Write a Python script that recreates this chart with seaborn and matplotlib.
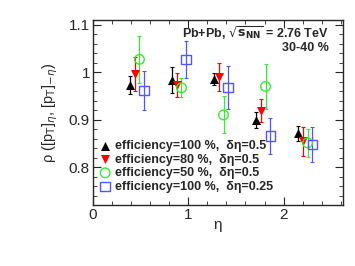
import matplotlib
matplotlib.use('Agg')
import matplotlib.pyplot as plt
import seaborn as sns
import pandas as pd
from matplotlib.ticker import MultipleLocator

# eta bins (black series); other series are shifted slightly in the figure
eta_eff100 = [0.39, 0.83, 1.27, 1.71, 2.15]
eta_eff80 = [0.44, 0.88, 1.32, 1.76, 2.20]
eta_eff50 = [0.49, 0.93, 1.37, 1.81, 2.25]
eta_eff100_d025 = [0.54, 0.98, 1.42, 1.86, 2.30]

rho_eff100 = [0.973, 0.983, 0.986, 0.899, 0.871]
err_eff100 = [0.018, 0.027, 0.013, 0.017, 0.015]
rho_eff80 = [0.996, 0.973, 0.990, 0.919, 0.854]
err_eff80 = [0.035, 0.025, 0.030, 0.024, 0.030]
rho_eff50 = [1.027, 0.967, 0.910, 0.970, 0.851]
err_eff50 = [0.050, 0.020, 0.039, 0.047, 0.030]
rho_eff100_d025 = [0.961, 1.027, 0.968, 0.865, 0.848]
err_eff100_d025 = [0.041, 0.039, 0.046, 0.038, 0.037]

labels = ['efficiency=100 %,  δη=0.5',
          'efficiency=80 %,  δη=0.5',
          'efficiency=50 %,  δη=0.5',
          'efficiency=100 %,  δη=0.25']

series = [
    (eta_eff100, rho_eff100, err_eff100, '^', '#000000', True),
    (eta_eff80, rho_eff80, err_eff80, 'v', '#ff0000', True),
    (eta_eff50, rho_eff50, err_eff50, 'o', '#33ee33', False),
    (eta_eff100_d025, rho_eff100_d025, err_eff100_d025, 's', '#5555ff', False),
]

sns.set_style('ticks')
plt.rcParams['font.family'] = ['Liberation Sans', 'DejaVu Sans']

fig = plt.figure(figsize=(3.55, 2.66), dpi=100)
ax = fig.add_axes([0.261, 0.229, 0.705, 0.696])

for (x, y, e, m, c, filled), lab in zip(series, labels):
    df = pd.DataFrame({'eta': x, 'rho': y})
    ax.errorbar(x, y, yerr=e, fmt='none', ecolor=c, elinewidth=0.9,
                capsize=1.5, capthick=0.8, zorder=2)
    sns.scatterplot(data=df, x='eta', y='rho', ax=ax, marker=m,
                    s=42 if m in '^v' else 48,
                    color=c if filled else 'none',
                    edgecolor=c, linewidth=0 if filled else 1.0,
                    label=lab, zorder=3)

ax.set_xlim(0, 2.62)
ax.set_ylim(0.72, 1.11)
ax.xaxis.set_major_locator(MultipleLocator(1))
ax.xaxis.set_minor_locator(MultipleLocator(0.2))
ax.yaxis.set_major_locator(MultipleLocator(0.1))
ax.yaxis.set_minor_locator(MultipleLocator(0.02))
ax.set_yticks([0.8, 0.9, 1.0, 1.1])
ax.set_yticklabels(['0.8', '0.9', '1', '1.1'])
ax.tick_params(which='both', direction='in', top=True, right=True,
               labelsize=11, pad=2)
ax.tick_params(which='major', length=6)
ax.tick_params(which='minor', length=3)
for sp in ax.spines.values():
    sp.set_linewidth(1.0)

ax.set_xlabel('η', fontsize=11, labelpad=0)
ax.xaxis.set_label_coords(0.5, -0.07)
ax.set_ylabel(r'ρ ([p$_{\mathrm{T}}$]$_{\eta}$, [p$_{\mathrm{T}}$]$_{-\eta}$)',
              fontsize=10.5, labelpad=6)

ax.text(0.945, 0.93, r'Pb+Pb, $\sqrt{\mathbf{s}_{\mathbf{NN}}}$ = 2.76 TeV',
        transform=ax.transAxes, ha='right', va='center', fontsize=9,
        fontweight='bold')
ax.text(0.945, 0.85, '30-40 %', transform=ax.transAxes, ha='right',
        va='center', fontsize=9, fontweight='bold')

leg = ax.legend(loc='lower left', bbox_to_anchor=(-0.01, 0.02), frameon=False,
                fontsize=9, handletextpad=0.3, borderaxespad=0.3,
                labelspacing=0.12, handlelength=1.0)
for t in leg.get_texts():
    t.set_fontweight('bold')

fig.savefig('out.png', dpi=100)
